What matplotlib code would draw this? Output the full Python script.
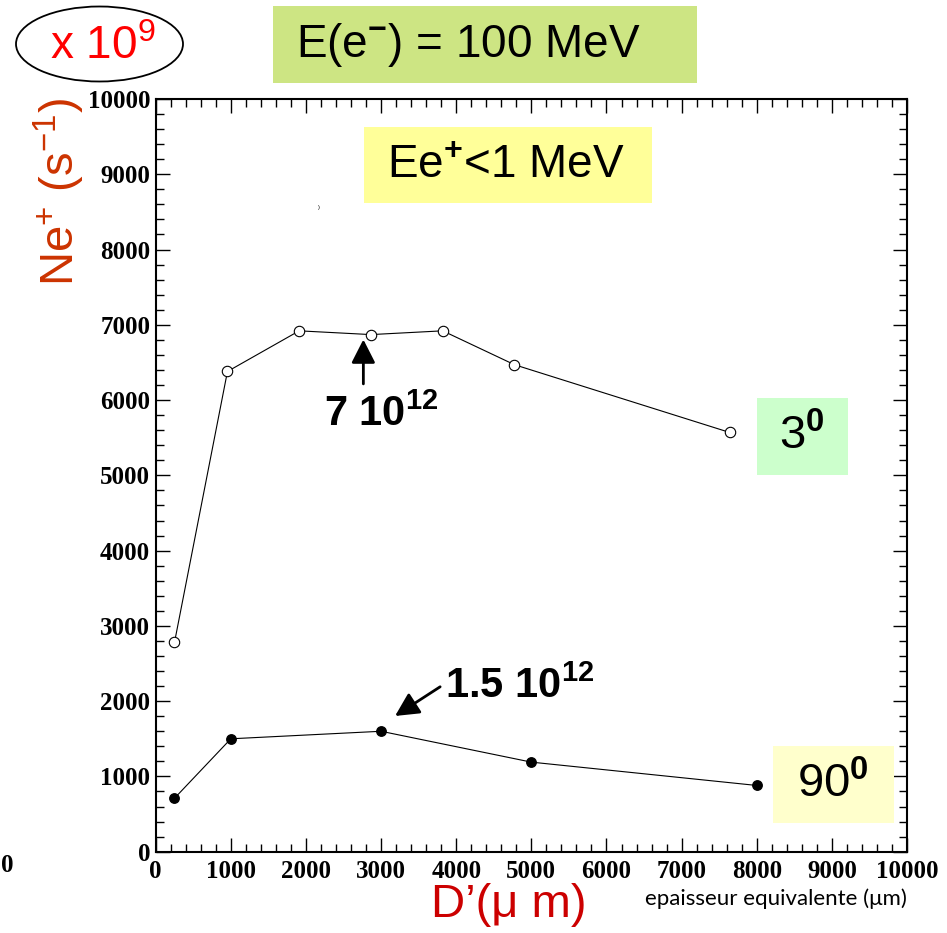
import numpy as np
import matplotlib
matplotlib.use("Agg")
from matplotlib import pyplot as plt
from matplotlib.patches import Rectangle, Ellipse

# Données : nombre de positons (x 10^9 s-1) en fonction de l'épaisseur équivalente
x_3deg = [250, 955, 1910, 2865, 3820, 4775, 7640]
y_3deg = [2780, 6380, 6920, 6870, 6920, 6470, 5570]
x_90deg = [250, 1000, 3000, 5000, 8000]
y_90deg = [710, 1500, 1600, 1190, 880]
ticks = np.arange(0, 10001, 1000)

plt.rcParams['font.family'] = ['Liberation Sans', 'DejaVu Sans']
plt.rcParams['mathtext.fontset'] = 'custom'
plt.rcParams['mathtext.rm'] = 'Liberation Sans'
plt.rcParams['mathtext.bf'] = 'Liberation Sans:bold'
plt.rcParams['mathtext.it'] = 'Liberation Sans:italic'

W, H = 947, 933
fig = plt.figure(figsize=(W / 100, H / 100), dpi=100)

# position en pixels -> fraction de la figure
def px(x, y):
    return x / W, 1 - y / H

ax = fig.add_axes([155.7 / W, 1 - 851.7 / H, (907 - 155.7) / W, (851.7 - 99) / H])

ax.plot(x_3deg, y_3deg, '-', color='black', lw=0.8, marker='o', ms=7.5,
        mfc='white', mec='black', mew=0.8, zorder=3)
ax.plot(x_90deg, y_90deg, '-', color='black', lw=0.8, marker='o', ms=6.8,
        mfc='black', mec='black', zorder=3)

ax.set_xlim(0, 10000)
ax.set_ylim(0, 10000)
ax.set_xticks(ticks)
ax.set_yticks(ticks)
ax.set_xticks(np.arange(0, 10001, 200), minor=True)
ax.set_yticks(np.arange(0, 10001, 200), minor=True)
ax.tick_params(which='both', direction='in', top=True, right=True, width=1.0)
ax.tick_params(which='major', length=10)
ax.tick_params(which='minor', length=5.5)
ax.tick_params(axis='x', pad=6)
ax.tick_params(axis='y', pad=4)
for lab in ax.get_xticklabels() + ax.get_yticklabels():
    lab.set_fontfamily('Liberation Serif')
    lab.set_fontweight('bold')
    lab.set_fontsize(18)
for s in ax.spines.values():
    s.set_linewidth(1.5)

# Flèches et valeurs annotées
arrow = dict(arrowstyle='-|>,head_length=0.55,head_width=0.28', color='black',
             lw=2, mutation_scale=26, shrinkA=0, shrinkB=0)
ax.annotate('', xy=(2764, 6805), xytext=(2764, 6215), arrowprops=arrow)
ax.text(3000, 5654, r'$\mathbf{7\ 10}^{\mathbf{12}}$', fontsize=30,
        ha='center', va='baseline')
ax.annotate('', xy=(3186, 1803), xytext=(3786, 2191), arrowprops=arrow)
ax.text(3852, 2041, r'$\mathbf{1.5\ 10}^{\mathbf{12}}$', fontsize=30,
        ha='left', va='baseline')

# Cadres de texte
def cadre(x0, y0, x1, y1, couleur):
    fig.add_artist(Rectangle(px(x0, y1), (x1 - x0) / W, (y1 - y0) / H,
                             transform=fig.transFigure, facecolor=couleur,
                             edgecolor='none', zorder=4))

cadre(272.7, 6, 696.7, 82.7, '#cde583')
fig.text(*px(468, 45), r'E(e$^{\mathbf{-}}$) = 100 MeV', fontsize=33,
         ha='center', va='center', zorder=5)

cadre(364, 126.7, 651.7, 203.3, '#ffff99')
fig.text(*px(506, 166), r'Ee$^{\mathbf{+}}$<1 MeV', fontsize=33,
         ha='center', va='center', zorder=5)

cadre(757, 398, 848, 475, '#ccffcc')
fig.text(*px(802, 437), r'$\mathrm{3}^{\mathbf{0}}$', fontsize=34,
         ha='center', va='center', zorder=5)

cadre(773, 746, 893.7, 823.3, '#ffffcc')
fig.text(*px(833, 785), r'$\mathrm{90}^{\mathbf{0}}$', fontsize=34,
         ha='center', va='center', zorder=5)

# Facteur d'échelle entouré
fig.add_artist(Ellipse(px(99.5, 44), 167 / W, 75 / H, transform=fig.transFigure,
                       facecolor='none', edgecolor='black', lw=1.3))
fig.text(*px(103, 47), r'x 10$^{9}$', fontsize=33, color='#ff0000',
         ha='center', va='center')

# Titres des axes
fig.text(*px(59, 192), r'Ne$^{+}$ (s$^{-1}$)', fontsize=34, color='#cc3300',
         rotation=90, ha='center', va='center')
fig.text(*px(509, 905), 'D’(μ m)', fontsize=34, color='#cc0000',
         ha='center', va='center')
fig.text(*px(776, 899), 'epaisseur equivalente (μm)', fontsize=16,
         fontfamily=['Lato', 'DejaVu Sans'], ha='center', va='center')

fig.text(*px(7, 866), '0', fontsize=18, fontfamily='Liberation Serif',
         fontweight='bold', ha='center', va='center')
fig.text(*px(319, 207), ')', fontsize=4, ha='center', va='center')

fig.savefig('out.png', dpi=100)
